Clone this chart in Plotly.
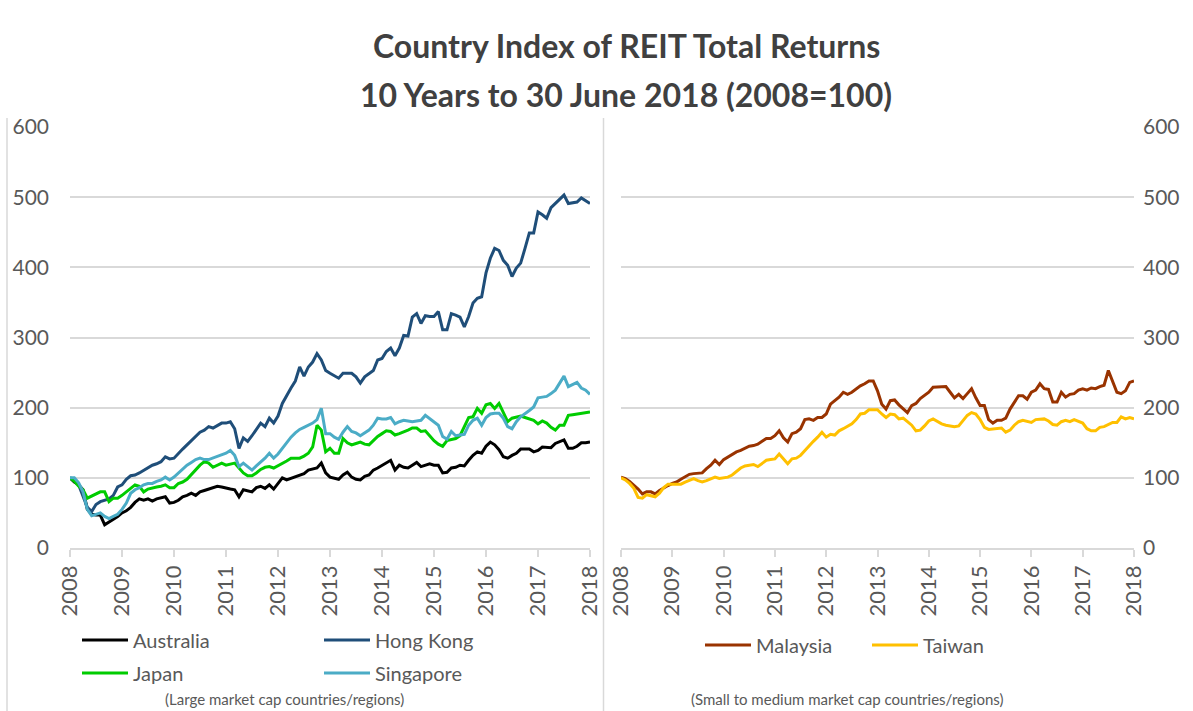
import plotly.graph_objects as go

# ---------------- data (monthly, Jun 2008 = month 0 ... Jun 2018 = month 120) ----------------
months = list(range(121))
tick_months = list(range(0, 121, 12))
year_labels = [str(y) for y in range(2008, 2019)]
y_ticks = [0, 100, 200, 300, 400, 500, 600]

australia = [100, 94, 90, 83, 55, 48, 47, 47, 33, 37, 40, 45,
             50, 53, 58, 65, 70, 68, 70, 67, 70, 72, 73, 64,
             65, 68, 73, 75, 78, 75, 80, 82, 84, 85, 88, 87,
             85, 84, 83, 73, 83, 82, 80, 86, 88, 85, 90, 84,
             92, 100, 97, 99, 101, 104, 106, 111, 113, 114, 121, 107,
             101, 99, 98, 104, 108, 101, 98, 97, 102, 104, 111, 114,
             118, 122, 125, 111, 118, 115, 114, 118, 122, 116, 118, 120,
             118, 118, 107, 108, 114, 115, 118, 117, 125, 132, 137, 135,
             145, 151, 147, 140, 130, 128, 132, 135, 141, 141, 141, 137,
             139, 144, 143, 143, 149, 152, 154, 142, 142, 145, 150, 150,
             151]

hong_kong = [100, 98, 90, 75, 58, 52, 62, 66, 68, 70, 75, 87,
             90, 98, 103, 104, 107, 111, 114, 118, 120, 123, 130, 127,
             128, 135, 141, 147, 153, 159, 165, 168, 173, 171, 174, 178,
             178, 180, 170, 142, 157, 152, 160, 170, 178, 173, 185, 178,
             188, 206, 218, 228, 238, 258, 245, 258, 265, 277, 268, 253,
             249, 245, 242, 249, 249, 249, 244, 235, 244, 248, 253, 268,
             270, 280, 285, 274, 285, 303, 302, 329, 334, 320, 331, 330,
             330, 337, 311, 311, 334, 332, 329, 315, 330, 349, 356, 358,
             392, 413, 427, 424, 410, 403, 387, 399, 406, 427, 449, 449,
             479, 475, 470, 485, 491, 498, 503, 491, 492, 493, 499, 495,
             491]

japan = [100, 95, 88, 83, 71, 74, 78, 80, 80, 66, 71, 71,
         75, 80, 85, 90, 88, 80, 84, 86, 87, 88, 90, 86,
         86, 92, 94, 98, 105, 112, 118, 123, 121, 115, 118, 121,
         118, 120, 121, 114, 107, 103, 103, 107, 112, 115, 116, 114,
         117, 121, 124, 128, 128, 128, 131, 135, 144, 175, 168, 137,
         142, 135, 135, 156, 150, 147, 149, 151, 148, 147, 153, 159,
         163, 167, 166, 161, 163, 165, 168, 171, 171, 166, 167, 160,
         153, 148, 145, 153, 154, 156, 160, 172, 186, 187, 199, 192,
         204, 206, 199, 206, 192, 180, 185, 187, 188, 186, 184, 182,
         177, 181, 178, 172, 168, 175, 175, 189, 190, 191, 192, 194,
         194]

singapore = [100, 100, 93, 80, 55, 46, 48, 50, 45, 42, 45, 48,
             55, 64, 78, 83, 86, 90, 92, 92, 95, 97, 101, 97,
             101, 107, 112, 118, 122, 126, 128, 126, 126, 128, 131, 133,
             135, 139, 132, 116, 121, 116, 111, 117, 122, 128, 135, 128,
             134, 142, 151, 158, 164, 169, 172, 175, 178, 183, 199, 163,
             163, 158, 155, 165, 173, 166, 164, 160, 164, 168, 175, 185,
             184, 184, 186, 177, 180, 182, 181, 180, 181, 182, 189, 184,
             180, 175, 159, 155, 166, 160, 161, 162, 175, 182, 185, 175,
             186, 191, 192, 192, 185, 173, 170, 180, 187, 191, 196, 201,
             214, 215, 216, 220, 225, 235, 245, 230, 233, 236, 228, 225,
             219]

malaysia = [101, 99, 95, 90, 84, 77, 80, 80, 77, 82, 86, 89,
            92, 94, 98, 101, 105, 106, 106, 107, 113, 118, 125, 119,
            126, 130, 133, 137, 139, 142, 145, 146, 148, 152, 156, 156,
            160, 167, 157, 151, 163, 165, 170, 183, 184, 182, 186, 186,
            191, 205, 210, 215, 222, 219, 222, 227, 231, 234, 238, 238,
            224, 205, 198, 210, 211, 204, 198, 193, 203, 206, 213, 217,
            222, 229, 229, 229, 230, 222, 214, 219, 213, 220, 227, 214,
            203, 203, 183, 178, 182, 182, 185, 198, 208, 217, 217, 212,
            222, 225, 234, 227, 226, 208, 208, 222, 215, 219, 220, 225,
            227, 225, 228, 227, 230, 232, 253, 236, 222, 220, 224, 236,
            238]

taiwan = [100, 97, 92, 85, 72, 71, 76, 75, 73, 78, 86, 91,
          91, 90, 91, 94, 97, 99, 96, 94, 96, 99, 101, 99,
          100, 101, 104, 109, 114, 117, 118, 119, 116, 120, 125, 126,
          127, 134, 127, 120, 127, 128, 132, 139, 146, 152, 158, 165,
          158, 162, 161, 167, 170, 174, 177, 183, 191, 192, 197, 197,
          197, 191, 186, 191, 190, 184, 185, 180, 175, 167, 168, 174,
          181, 184, 180, 177, 175, 174, 173, 174, 182, 189, 193, 191,
          183, 172, 169, 170, 170, 171, 165, 168, 175, 180, 182, 181,
          179, 183, 184, 184, 181, 176, 175, 180, 182, 180, 183, 181,
          178, 170, 167, 167, 172, 173, 176, 179, 179, 187, 184, 186,
          184]

# ---------------- layout helpers ----------------
W, H = 1193, 711


def px(x):
    return x / W


def py(y):
    return 1 - y / H


FONT = "Lato, Carlito, Calibri, 'DejaVu Sans', sans-serif"
TXT = "#595959"
GRID = "#D9D9D9"

fig = go.Figure()

left_series = [
    ("Australia", australia, "#000000", "legend"),
    ("Hong Kong", hong_kong, "#1F4E79", "legend"),
    ("Japan", japan, "#00CC00", "legend2"),
    ("Singapore", singapore, "#4BACC6", "legend2"),
]
for name, vals, col, leg in left_series:
    fig.add_trace(go.Scatter(x=months, y=vals, name=name, mode="lines",
                             line=dict(color=col, width=3),
                             xaxis="x", yaxis="y", legend=leg))

right_series = [
    ("Malaysia", malaysia, "#993300"),
    ("Taiwan", taiwan, "#FFC000"),
]
for name, vals, col in right_series:
    fig.add_trace(go.Scatter(x=months, y=vals, name=name, mode="lines",
                             line=dict(color=col, width=3),
                             xaxis="x2", yaxis="y2", legend="legend3"))

xaxis_common = dict(range=[0, 120], tickmode="array", tickvals=tick_months,
                    ticktext=year_labels, tickangle=-90, ticks="outside",
                    ticklen=7, tickcolor=GRID, tickwidth=1.5, showline=True,
                    linecolor=GRID, linewidth=1.5, showgrid=False,
                    zeroline=False, tickfont=dict(family=FONT, size=22, color=TXT),
                    fixedrange=True, automargin=False)
yaxis_common = dict(range=[0, 600], tickmode="array", tickvals=y_ticks,
                    showgrid=True, gridcolor=GRID, gridwidth=1.5,
                    zeroline=False, showline=False, ticks="",
                    tickfont=dict(family=FONT, size=21, color=TXT),
                    domain=[py(548), py(127)], fixedrange=True, automargin=False)

legend_common = dict(orientation="h", font=dict(family=FONT, size=20, color=TXT),
                     bgcolor="rgba(0,0,0,0)", itemwidth=46,
                     entrywidthmode="pixels", yanchor="middle", xanchor="left",
                     traceorder="normal")

fig.update_layout(
    width=W, height=H,
    margin=dict(l=0, r=0, t=0, b=0, autoexpand=False),
    paper_bgcolor="white", plot_bgcolor="rgba(0,0,0,0)",
    font=dict(family=FONT, color=TXT),
    xaxis=dict(domain=[px(70), px(590)], anchor="y", **xaxis_common),
    yaxis=dict(anchor="x", side="left", ticklabelstandoff=20, **yaxis_common),
    xaxis2=dict(domain=[px(621), px(1134)], anchor="y2", **xaxis_common),
    yaxis2=dict(anchor="x2", side="right", ticklabelstandoff=8, **yaxis_common),
    legend=dict(x=px(77), y=py(640), entrywidth=181, **legend_common),
    legend2=dict(x=px(77), y=py(673), entrywidth=181, **legend_common),
    legend3=dict(x=px(700), y=py(645), entrywidth=106, **legend_common),
    showlegend=True,
    annotations=[
        dict(text="<b>Country Index of REIT Total Returns</b>", x=px(626), y=py(46),
             xref="paper", yref="paper", showarrow=False, xanchor="center", yanchor="middle",
             font=dict(family=FONT, size=32, color="#404040")),
        dict(text="<b>10 Years to 30 June 2018 (2008=100)</b>", x=px(626), y=py(95),
             xref="paper", yref="paper", showarrow=False, xanchor="center", yanchor="middle",
             font=dict(family=FONT, size=32, color="#404040")),
        dict(text="(Large market cap countries/regions)", x=px(284), y=py(699),
             xref="paper", yref="paper", showarrow=False, xanchor="center", yanchor="middle",
             font=dict(family=FONT, size=15, color=TXT)),
        dict(text="(Small to medium market cap countries/regions)", x=px(847), y=py(699),
             xref="paper", yref="paper", showarrow=False, xanchor="center", yanchor="middle",
             font=dict(family=FONT, size=15, color=TXT)),
    ],
    shapes=[
        dict(type="line", xref="paper", yref="paper", x0=px(603.5), x1=px(603.5),
             y0=py(118), y1=0, line=dict(color=GRID, width=1.5)),
        dict(type="line", xref="paper", yref="paper", x0=px(7), x1=px(7),
             y0=py(118), y1=0, line=dict(color=GRID, width=1.5)),
    ],
)

fig.write_html("out.html",
               config={"displayModeBar": False},
               post_script="document.body.style.margin='0';document.body.style.overflow='hidden';")
